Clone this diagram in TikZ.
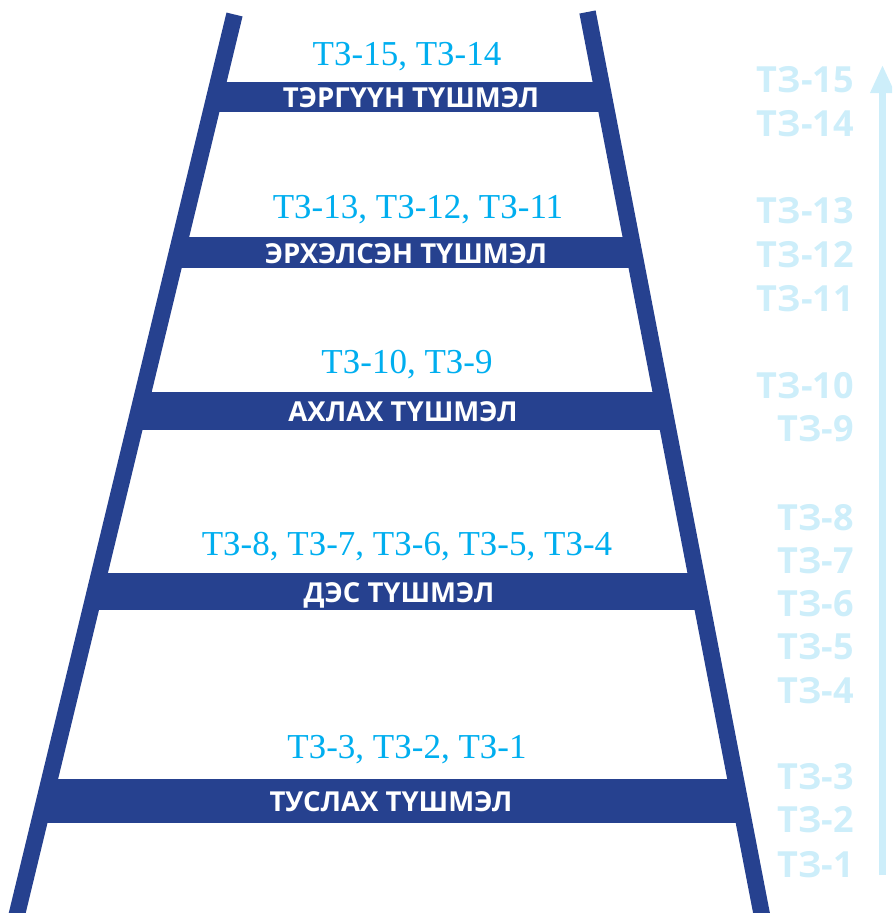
\documentclass[tikz,border=0pt]{standalone}
\usepackage{fontspec}
\setmainfont{Liberation Serif}
\newfontfamily\ranksans{Open Sans}
\usetikzlibrary{arrows.meta}
\definecolor{ladder}{HTML}{26418F}
\definecolor{gradeblue}{HTML}{00AEEF}
\definecolor{palecyan}{HTML}{CDEEFA}
\begin{document}
\begin{tikzpicture}[x=1pt,y=-1pt,
  rail/.style={draw=ladder,line width=16.5pt,line cap=butt},
  rung/.style={fill=ladder},
  rankname/.style={font=\ranksans\bfseries\fontsize{27.5}{27.5}\selectfont,text=white,inner sep=0pt,anchor=base},
  gradelist/.style={font=\fontsize{35}{35}\selectfont,text=gradeblue,inner sep=0pt,anchor=base},
  gradetick/.style={font=\ranksans\bfseries\fontsize{36}{36}\selectfont,text=palecyan,inner sep=0pt,anchor=base east}]
\useasboundingbox (0,0) rectangle (892,913);
\clip (0,0) rectangle (892,913);

% rails of the ladder (centre lines)
\coordinate (lt) at (234.5,14.5);
\coordinate (lb) at (10.7,940);
\coordinate (rt) at (587.5,12);
\coordinate (rb) at (766.7,940);

% rungs, kept between the rails
\begin{scope}
  \clip (lt) -- (rt) -- (rb) -- (lb) -- cycle;
  \fill[rung] (0,82)  rectangle (892,112);
  \fill[rung] (0,237) rectangle (892,268);
  \fill[rung] (0,392) rectangle (892,430);
  \fill[rung] (0,573) rectangle (892,610);
  \fill[rung] (0,779) rectangle (892,823);
\end{scope}

\draw[rail] (lt) -- (lb);
\draw[rail] (rt) -- (rb);

% rank names on the rungs
\node[rankname] (r1) at (411,107.5) {ТЭРГҮҮН ТҮШМЭЛ};
\node[rankname] (r2) at (406,263.5) {ЭРХЭЛСЭН ТҮШМЭЛ};
\node[rankname] (r3) at (403,421) {АХЛАХ ТҮШМЭЛ};
\node[rankname] (r4) at (399,602) {ДЭС ТҮШМЭЛ};
\node[rankname] (r5) at (391,811.5) {ТУСЛАХ ТҮШМЭЛ};

% grades above each rung
\node[gradelist] (g1) at (407,65)  {ТЗ-15, ТЗ-14};
\node[gradelist] (g2) at (418,218) {ТЗ-13, ТЗ-12, ТЗ-11};
\node[gradelist] (g3) at (407,373) {ТЗ-10, ТЗ-9};
\node[gradelist] (g4) at (407,555) {ТЗ-8, ТЗ-7, ТЗ-6, ТЗ-5, ТЗ-4};
\node[gradelist] (g5) at (407,758) {ТЗ-3, ТЗ-2, ТЗ-1};

% grade scale on the right
\node[gradetick] (t15) at (854,92.5)  {ТЗ-15};
\node[gradetick] (t14) at (854,136.5) {ТЗ-14};
\node[gradetick] (t13) at (854,223)   {ТЗ-13};
\node[gradetick] (t12) at (854,267)   {ТЗ-12};
\node[gradetick] (t11) at (854,311)   {ТЗ-11};
\node[gradetick] (t10) at (854,398)   {ТЗ-10};
\node[gradetick] (t9)  at (854,441)   {ТЗ-9};
\node[gradetick] (t8)  at (854,530)   {ТЗ-8};
\node[gradetick] (t7)  at (854,573)   {ТЗ-7};
\node[gradetick] (t6)  at (854,616.5) {ТЗ-6};
\node[gradetick] (t5)  at (854,659.5) {ТЗ-5};
\node[gradetick] (t4)  at (854,703.5) {ТЗ-4};
\node[gradetick] (t3)  at (854,789.5) {ТЗ-3};
\node[gradetick] (t2)  at (854,832.5) {ТЗ-2};
\node[gradetick] (t1)  at (854,877)   {ТЗ-1};

% upward arrow of the scale
\coordinate (arrowfoot) at (882.5,875);
\coordinate (arrowtip)  at (882.5,65);
\draw[palecyan,line width=6.5pt,-{Triangle[length=28pt,width=23pt]}] (arrowfoot) -- (arrowtip);
\end{tikzpicture}
\end{document}
